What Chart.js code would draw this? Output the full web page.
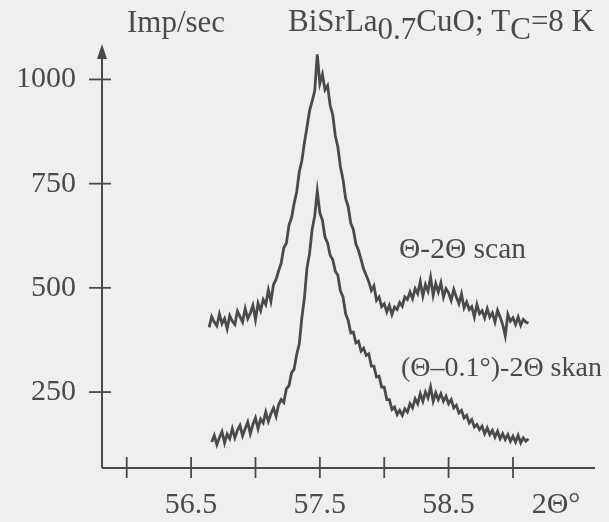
<!DOCTYPE html>
<html><head><meta charset="utf-8">
<script src="https://cdn.jsdelivr.net/npm/chart.js@4.4.1/dist/chart.umd.min.js"></script>
<style>html,body{margin:0;padding:0;background:#efefed;}#wrap{width:609px;height:522px;position:relative}</style>
</head><body><div id="wrap"><canvas id="c" width="609" height="522"></canvas></div>
<script>
// 2Θ angles (degrees)
const angles = [
56.64,56.66,56.68,56.70,56.72,56.74,56.76,56.78,56.80,56.82,
56.84,56.86,56.88,56.90,56.92,56.94,56.96,56.98,57.00,57.02,
57.04,57.06,57.08,57.10,57.12,57.14,57.16,57.18,57.20,57.22,
57.24,57.26,57.28,57.30,57.32,57.34,57.36,57.38,57.40,57.42,
57.44,57.46,57.48,57.50,57.52,57.54,57.56,57.58,57.60,57.62,
57.64,57.66,57.68,57.70,57.72,57.74,57.76,57.78,57.80,57.82,
57.84,57.86,57.88,57.90,57.92,57.94,57.96,57.98,58.00,58.02,
58.04,58.06,58.08,58.10,58.12,58.14,58.16,58.18,58.20,58.22,
58.24,58.26,58.28,58.30,58.32,58.34,58.36,58.38,58.40,58.42,
58.44,58.46,58.48,58.50,58.52,58.54,58.56,58.58,58.60,58.62,
58.64,58.66,58.68,58.70,58.72,58.74,58.76,58.78,58.80,58.82,
58.84,58.86,58.88,58.90,58.92,58.94,58.96,58.98,59.00,59.02,
59.04,59.06,59.08,59.10,59.12];

// Θ-2Θ scan (Imp/sec)
const thetaScan = [
405,431,418,409,437,414,426,402,433,420,
412,444,431,418,450,426,439,458,424,463,
445,472,460,495,468,508,520,541,560,596,
607,650,668,702,730,778,805,848,885,925,
948,972,1060,990,1012,975,985,938,915,865,
838,790,760,715,695,655,640,605,590,568,
545,530,515,494,505,470,478,455,462,442,
458,436,454,448,465,456,478,472,490,474,
498,486,515,480,508,492,525,482,510,490,
512,478,498,488,470,496,478,462,485,452,
466,448,455,430,460,438,445,428,450,430,
440,418,446,430,412,385,436,420,428,412,
430,410,424,418,415];

// (Θ–0.1°)-2Θ skan (Imp/sec)
const offsetScan = [
null,130,146,124,141,155,128,149,138,162,
140,158,170,145,162,178,150,172,188,162,
185,176,202,180,198,212,192,220,232,225,
258,265,296,305,340,365,428,475,548,582,
640,672,732,680,662,622,608,578,568,540,
530,492,478,438,422,392,394,368,372,348,
355,338,342,312,312,286,288,262,262,232,
232,208,214,196,206,194,210,202,222,212,
234,222,246,228,250,236,262,228,248,232,
246,228,240,222,232,212,218,200,206,188,
194,176,184,166,172,160,168,150,164,148,
158,142,156,138,150,136,148,132,144,130,
146,128,140,132,138];

const yTicks = [250, 500, 750, 1000];
const xTickMarks = [56.0, 56.5, 57.0, 57.5, 58.0, 58.5, 59.0];
const xTickLabels = ['', '56.5', '', '57.5', '', '58.5', ''];
const seriesNames = ['\u0398-2\u0398 scan', '(\u0398\u20130.1\u00b0)-2\u0398 skan'];
const yAxisTitle = 'Imp/sec';
const xAxisTitle = '2\u0398\u00b0';
const titleParts = [['BiSrLa',0],['0.7',8],['CuO; T',0],['C',8],['=8 K',0]];

const INK = '#4a4a4a';
const FAMILY = '"Liberation Serif","Times New Roman",serif';

const overlay = {
  id: 'overlay',
  afterDraw(chart) {
    const ctx = chart.ctx, xs = chart.scales.x, ys = chart.scales.y, a = chart.chartArea;
    ctx.save();
    ctx.strokeStyle = INK; ctx.fillStyle = INK; ctx.lineWidth = 2;
    ctx.beginPath();
    ctx.moveTo(a.left, a.bottom); ctx.lineTo(a.right, a.bottom);
    ctx.moveTo(a.left, a.bottom); ctx.lineTo(a.left, a.top + 10);
    ctx.stroke();
    ctx.beginPath();
    ctx.moveTo(a.left, a.top); ctx.lineTo(a.left - 5, a.top + 15); ctx.lineTo(a.left + 5, a.top + 15);
    ctx.closePath(); ctx.fill();
    ctx.lineWidth = 1.8;
    xTickMarks.forEach(v => { const px = xs.getPixelForValue(v); ctx.beginPath(); ctx.moveTo(px, a.bottom - 11); ctx.lineTo(px, a.bottom + 10); ctx.stroke(); });
    yTicks.forEach(v => { const py = ys.getPixelForValue(v); ctx.beginPath(); ctx.moveTo(a.left - 13, py); ctx.lineTo(a.left + 9, py); ctx.stroke(); });
    ctx.textBaseline = 'alphabetic'; ctx.textAlign = 'left';
    ctx.font = '31px ' + FAMILY;
    ctx.fillText(yAxisTitle, 127, 32);
    let total = 0;
    titleParts.forEach(([t]) => { total += ctx.measureText(t).width; });
    let x = 594 - total;
    titleParts.forEach(([t, dy]) => { ctx.fillText(t, x, 31 + dy); x += ctx.measureText(t).width; });
    ctx.font = '29.5px ' + FAMILY;
    ctx.fillText(seriesNames[0], 399, 258);
    ctx.font = '28px ' + FAMILY;
    ctx.fillText(seriesNames[1], 401, 376);
    ctx.font = '30px ' + FAMILY;
    ctx.textAlign = 'center';
    ctx.fillText(xAxisTitle, 556, 513);
    ctx.restore();
  }
};

new Chart(document.getElementById('c'), {
  type: 'line',
  data: {
    labels: angles,
    datasets: [
      { label: seriesNames[0], data: angles.map((a, i) => ({x: a, y: thetaScan[i]})), borderColor: INK, borderWidth: 2.8, pointRadius: 0, tension: 0, fill: false, spanGaps: false },
      { label: seriesNames[1], data: angles.map((a, i) => ({x: a, y: offsetScan[i]})), borderColor: INK, borderWidth: 2.8, pointRadius: 0, tension: 0, fill: false, spanGaps: false }
    ]
  },
  options: {
    responsive: false, animation: false, devicePixelRatio: 1,
    layout: { padding: { left: 0, right: 14, top: 38, bottom: 0 } },
    plugins: { legend: { display: false }, title: { display: false }, tooltip: { enabled: false } },
    scales: {
      x: {
        type: 'linear', min: 55.808, max: 59.637,
        grid: { display: false, drawTicks: false }, border: { display: false },
        afterBuildTicks: s => { s.ticks = xTickMarks.map(v => ({ value: v })); },
        afterFit: s => { s.height = 54; },
        ticks: { autoSkip: false, maxRotation: 0, padding: 19, color: INK, font: { family: FAMILY, size: 30 },
          callback: (v, i) => xTickLabels[i] }
      },
      y: {
        type: 'linear', min: 67.8, max: 1085,
        grid: { display: false, drawTicks: false }, border: { display: false },
        afterBuildTicks: s => { s.ticks = yTicks.map(v => ({ value: v })); },
        afterFit: s => { s.width = 102; },
        ticks: { padding: 26, color: INK, font: { family: FAMILY, size: 30 }, callback: v => String(v) }
      }
    }
  },
  plugins: [overlay]
});
</script></body></html>
